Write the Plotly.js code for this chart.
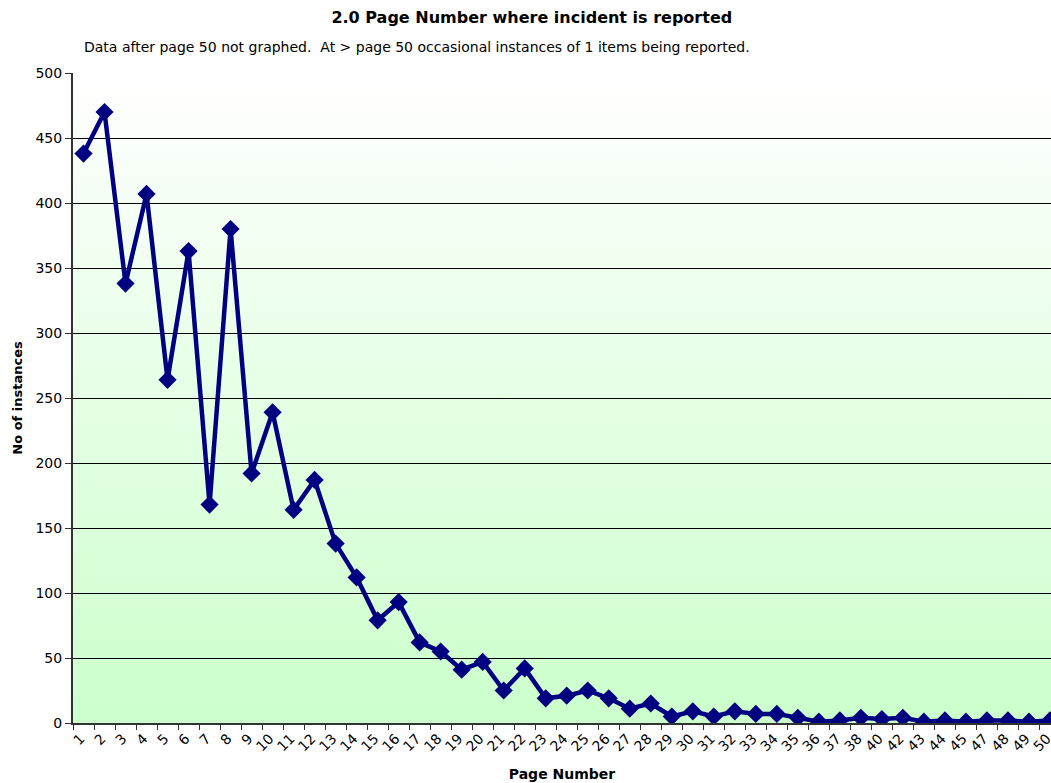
<!DOCTYPE html>
<html>
<head>
<meta charset="utf-8">
<script src="https://cdn.plot.ly/plotly-3.0.1.min.js"></script>
<style>
  html, body { margin: 0; padding: 0; background: #fff; }
  #chart { width: 1051px; height: 783px; }
</style>
</head>
<body>
<div id="chart"></div>
<script>
var pages = ['1', '2', '3', '4', '5', '6', '7', '8', '9', '10',
    '11', '12', '13', '14', '15', '16', '17', '18', '19', '20',
    '21', '22', '23', '24', '25', '26', '27', '28', '29', '30',
    '31', '32', '33', '34', '35', '36', '37', '38', '40', '42',
    '43', '44', '45', '47', '48', '49', '50'];

var instances = [438, 470, 338, 407, 264, 363, 168, 380, 192, 239,
    164, 187, 138, 112, 79, 93, 62, 55, 41, 47,
    25, 42, 19, 21, 25, 19, 11, 15, 5, 9,
    5, 9, 7, 7, 4, 1, 2, 4, 3, 4,
    1, 2, 1, 2, 2, 1, 2];

var yTicks = [0, 50, 100, 150, 200, 250, 300, 350, 400, 450, 500];

var FONT = 'DejaVu Sans, Verdana, sans-serif';

// white-to-green gradient behind the plot area
var bgSvg = '<svg xmlns="http://www.w3.org/2000/svg" width="100" height="100" preserveAspectRatio="none">' +
    '<defs><linearGradient id="g" x1="0" y1="0" x2="0" y2="1">' +
    '<stop offset="0" stop-color="#ffffff"/><stop offset="1" stop-color="#ccffcc"/>' +
    '</linearGradient></defs><rect width="100" height="100" fill="url(#g)"/></svg>';

var trace = {
    x: pages,
    y: instances,
    mode: 'lines+markers',
    line: { color: '#000080', width: 4.5 },
    marker: { symbol: 'diamond', size: 14, color: '#000080' },
    cliponaxis: true,
    hoverinfo: 'x+y'
};

var layout = {
    width: 1051,
    height: 783,
    margin: { l: 73, r: 0, t: 73, b: 60 },
    paper_bgcolor: '#ffffff',
    plot_bgcolor: 'rgba(0,0,0,0)',
    font: { family: FONT, size: 14, color: '#000' },
    showlegend: false,
    title: {
        text: '<b>2.0 Page Number where incident is reported</b>',
        font: { family: FONT, size: 16, color: '#000' },
        x: 0.506, xref: 'container', xanchor: 'center',
        y: 0.978, yref: 'container', yanchor: 'middle'
    },
    annotations: [{
        text: 'Data after page 50 not graphed.  At > page 50 occasional instances of 1 items being reported.',
        xref: 'paper', yref: 'paper',
        x: 0.0092, y: 1.04, xanchor: 'left', yanchor: 'middle',
        showarrow: false,
        font: { family: FONT, size: 14, color: '#000' }
    }],
    images: [{
        source: 'data:image/svg+xml;charset=utf-8,' + encodeURIComponent(bgSvg),
        xref: 'paper', yref: 'paper',
        x: 0, y: 1, sizex: 1, sizey: 1,
        xanchor: 'left', yanchor: 'top',
        sizing: 'stretch', layer: 'below'
    }],
    xaxis: {
        type: 'category',
        range: [-0.5, 46.05],
        tickangle: -45,
        tickson: 'boundaries',
        ticks: 'outside', ticklen: 5, tickcolor: '#333',
        ticklabelshift: -3,
        showgrid: false,
        showline: true, linecolor: '#333', linewidth: 2,
        tickfont: { family: FONT, size: 14, color: '#000' },
        title: { text: '<b>Page Number</b>', font: { family: FONT, size: 14, color: '#000' }, standoff: 16 },
        fixedrange: true
    },
    yaxis: {
        range: [0, 500],
        tickvals: yTicks,
        ticktext: yTicks.map(String),
        ticks: 'outside', ticklen: 6, tickcolor: '#333',
        showgrid: true, gridcolor: '#000', gridwidth: 1,
        zeroline: false,
        showline: true, linecolor: '#333', linewidth: 2,
        tickfont: { family: FONT, size: 14, color: '#000' },
        title: { text: '<b>No of instances</b>', font: { family: FONT, size: 13, color: '#000' }, standoff: 10 },
        fixedrange: true
    }
};

Plotly.newPlot('chart', [trace], layout, { displayModeBar: false, staticPlot: true });
</script>
</body>
</html>
